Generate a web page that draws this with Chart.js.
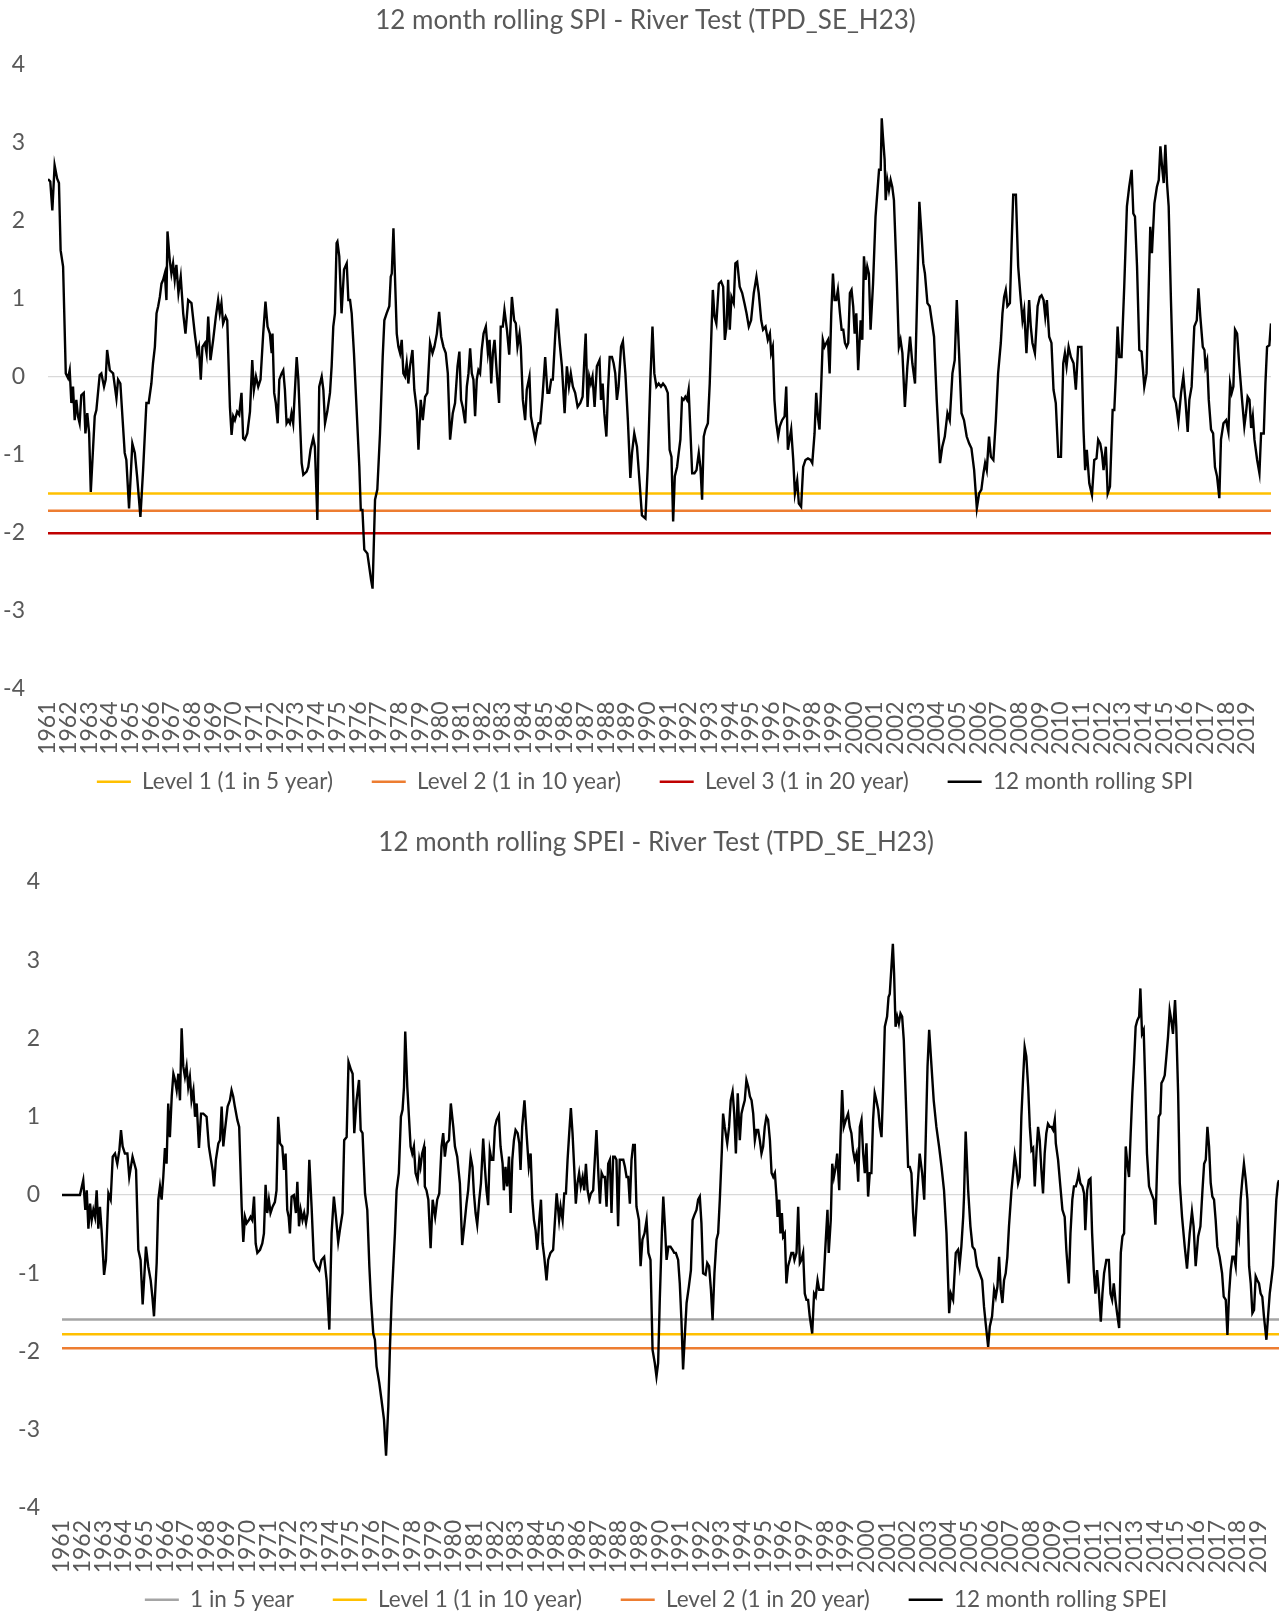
<!DOCTYPE html>
<html><head><meta charset="utf-8">
<script src="https://cdn.jsdelivr.net/npm/chart.js@4.4.1/dist/chart.umd.min.js"></script>
<style>
html,body{margin:0;padding:0;background:#fff;overflow:hidden;width:1279px;height:1613px}
canvas{display:block}
</style></head><body>
<canvas id="c1" width="1279" height="803"></canvas>
<canvas id="c2" width="1279" height="818"></canvas>
<script>
const FONT = 'Lato, "Open Sans", sans-serif';
const TEXT = '#595959';

const yearTicks = [];
for (let y = 1961; y <= 2019; y++) yearTicks.push(y);
const yTickValues = [-4,-3,-2,-1,0,1,2,3,4];

const spiTitle = '12 month rolling SPI - River Test (TPD_SE_H23)';
const spiName = '12 month rolling SPI';
const spiLevelNames = ['Level 1 (1 in 5 year)','Level 2 (1 in 10 year)','Level 3 (1 in 20 year)'];
const spiLevelValues = [-1.5,-1.72,-2.01];
const spiLevelColors = ['#FFC000','#ED7D31','#C00000'];

const speiTitle = '12 month rolling SPEI - River Test (TPD_SE_H23)';
const speiName = '12 month rolling SPEI';
const speiLevelNames = ['1 in 5 year','Level 1 (1 in 10 year)','Level 2 (1 in 20 year)'];
const speiLevelValues = [-1.59,-1.78,-1.96];
const speiLevelColors = ['#A5A5A5','#FFC000','#ED7D31'];

// [year, value]
const spiSeries = [[1961.00,2.53],[1961.11,2.50],[1961.21,2.13],[1961.32,2.71],[1961.44,2.54],[1961.53,2.48],[1961.61,1.62],[1961.73,1.41],[1961.86,0.04],[1961.97,-0.02],[1962.05,0.08],[1962.13,-0.34],[1962.21,-0.13],[1962.29,-0.56],[1962.37,-0.30],[1962.45,-0.51],[1962.53,-0.60],[1962.61,-0.24],[1962.73,-0.21],[1962.81,-0.73],[1962.90,-0.47],[1962.99,-0.73],[1963.07,-1.48],[1963.26,-0.51],[1963.34,-0.43],[1963.50,0.02],[1963.58,0.04],[1963.71,-0.13],[1963.79,-0.04],[1963.86,0.34],[1963.99,0.08],[1964.15,0.04],[1964.31,-0.28],[1964.39,-0.04],[1964.50,-0.09],[1964.71,-0.98],[1964.79,-1.07],[1964.92,-1.69],[1965.08,-0.86],[1965.20,-0.98],[1965.31,-1.28],[1965.47,-1.80],[1965.60,-1.20],[1965.76,-0.34],[1965.87,-0.34],[1966.00,-0.09],[1966.08,0.17],[1966.17,0.38],[1966.25,0.81],[1966.33,0.90],[1966.41,1.02],[1966.49,1.19],[1966.57,1.24],[1966.65,1.32],[1966.73,0.98],[1966.78,1.86],[1966.89,1.49],[1966.97,1.32],[1967.05,1.45],[1967.13,1.24],[1967.21,1.43],[1967.31,1.07],[1967.42,1.28],[1967.54,0.81],[1967.65,0.55],[1967.78,0.98],[1967.94,0.94],[1968.10,0.55],[1968.22,0.30],[1968.30,0.38],[1968.39,-0.04],[1968.47,0.38],[1968.59,0.43],[1968.67,0.30],[1968.75,0.77],[1968.86,0.21],[1968.99,0.47],[1969.12,0.77],[1969.23,0.98],[1969.31,0.81],[1969.39,0.94],[1969.47,0.68],[1969.59,0.77],[1969.67,0.72],[1969.80,-0.39],[1969.88,-0.75],[1969.96,-0.51],[1970.04,-0.56],[1970.15,-0.45],[1970.25,-0.49],[1970.36,-0.21],[1970.44,-0.79],[1970.52,-0.81],[1970.64,-0.73],[1970.77,-0.45],[1970.88,0.21],[1970.96,-0.17],[1971.06,0.00],[1971.17,-0.13],[1971.28,-0.04],[1971.41,0.55],[1971.52,0.96],[1971.62,0.64],[1971.73,0.55],[1971.82,0.30],[1971.86,0.55],[1971.94,-0.21],[1972.02,-0.34],[1972.11,-0.60],[1972.19,-0.04],[1972.30,0.04],[1972.38,0.08],[1972.46,-0.17],[1972.54,-0.60],[1972.62,-0.56],[1972.70,-0.60],[1972.78,-0.47],[1972.86,-0.60],[1973.03,0.25],[1973.11,-0.04],[1973.27,-1.11],[1973.35,-1.26],[1973.51,-1.22],[1973.59,-1.16],[1973.70,-0.94],[1973.83,-0.79],[1973.91,-0.90],[1974.03,-1.84],[1974.12,-0.13],[1974.24,0.00],[1974.32,-0.17],[1974.40,-0.60],[1974.51,-0.45],[1974.64,-0.21],[1974.72,0.13],[1974.80,0.64],[1974.88,0.81],[1974.96,1.71],[1975.00,1.73],[1975.09,1.54],[1975.20,0.81],[1975.32,1.37],[1975.45,1.45],[1975.53,0.98],[1975.61,0.98],[1975.69,0.81],[1975.80,0.30],[1975.93,-0.43],[1976.06,-1.16],[1976.13,-1.71],[1976.21,-1.71],[1976.30,-2.22],[1976.45,-2.27],[1976.54,-2.44],[1976.63,-2.61],[1976.70,-2.72],[1976.82,-1.58],[1976.93,-1.45],[1977.06,-0.73],[1977.19,0.25],[1977.27,0.72],[1977.38,0.81],[1977.51,0.90],[1977.58,1.28],[1977.63,1.32],[1977.71,1.90],[1977.82,0.98],[1977.87,0.55],[1977.95,0.38],[1978.03,0.30],[1978.11,0.47],[1978.19,0.04],[1978.27,0.00],[1978.35,0.17],[1978.43,-0.09],[1978.51,0.13],[1978.63,0.34],[1978.72,-0.17],[1978.84,-0.43],[1978.92,-0.94],[1979.03,-0.30],[1979.13,-0.56],[1979.24,-0.26],[1979.35,-0.21],[1979.48,0.43],[1979.60,0.30],[1979.69,0.38],[1979.81,0.55],[1979.92,0.83],[1980.02,0.51],[1980.13,0.38],[1980.24,0.30],[1980.34,0.04],[1980.45,-0.81],[1980.58,-0.47],[1980.69,-0.34],[1980.81,0.13],[1980.90,0.32],[1980.98,-0.30],[1981.06,-0.39],[1981.18,-0.60],[1981.26,-0.13],[1981.34,0.04],[1981.42,0.36],[1981.50,0.04],[1981.58,-0.04],[1981.66,-0.51],[1981.74,-0.04],[1981.82,0.08],[1981.90,0.04],[1981.98,0.34],[1982.07,0.55],[1982.18,0.64],[1982.28,0.30],[1982.36,0.47],[1982.44,-0.09],[1982.52,0.30],[1982.60,0.47],[1982.71,0.04],[1982.82,-0.34],[1982.90,0.64],[1983.00,0.64],[1983.08,0.85],[1983.20,0.60],[1983.31,0.28],[1983.44,1.02],[1983.55,0.72],[1983.63,0.68],[1983.71,0.38],[1983.81,0.55],[1983.87,0.38],[1983.97,-0.30],[1984.08,-0.56],[1984.16,-0.17],[1984.29,0.00],[1984.36,-0.51],[1984.45,-0.64],[1984.57,-0.81],[1984.65,-0.68],[1984.73,-0.60],[1984.81,-0.60],[1984.92,-0.26],[1985.05,0.25],[1985.16,-0.21],[1985.25,-0.21],[1985.34,-0.04],[1985.42,-0.04],[1985.54,0.55],[1985.62,0.87],[1985.75,0.43],[1985.86,0.13],[1985.99,-0.47],[1986.10,0.13],[1986.20,-0.13],[1986.29,0.04],[1986.39,-0.13],[1986.50,-0.21],[1986.62,-0.39],[1986.75,-0.34],[1986.86,-0.26],[1986.96,0.30],[1987.01,0.55],[1987.10,-0.39],[1987.18,0.00],[1987.26,-0.09],[1987.34,0.00],[1987.44,-0.39],[1987.55,0.13],[1987.68,0.21],[1987.75,-0.30],[1987.83,-0.09],[1987.91,-0.47],[1988.01,-0.77],[1988.09,-0.17],[1988.17,0.25],[1988.28,0.25],[1988.36,0.17],[1988.44,0.04],[1988.52,-0.30],[1988.60,-0.13],[1988.72,0.38],[1988.81,0.45],[1988.93,0.04],[1989.05,-0.56],[1989.17,-1.30],[1989.25,-0.98],[1989.36,-0.73],[1989.49,-0.90],[1989.62,-1.37],[1989.73,-1.78],[1989.90,-1.82],[1990.01,-1.16],[1990.14,-0.04],[1990.24,0.64],[1990.33,0.04],[1990.43,-0.13],[1990.54,-0.09],[1990.65,-0.13],[1990.75,-0.09],[1990.86,-0.13],[1990.98,-0.21],[1991.07,-0.94],[1991.16,-1.03],[1991.24,-1.86],[1991.32,-1.28],[1991.43,-1.16],[1991.51,-0.98],[1991.59,-0.81],[1991.67,-0.28],[1991.75,-0.30],[1991.83,-0.26],[1991.91,-0.30],[1991.99,-0.17],[1992.08,-0.73],[1992.16,-1.24],[1992.27,-1.24],[1992.37,-1.20],[1992.48,-0.98],[1992.56,-1.16],[1992.64,-1.58],[1992.72,-0.77],[1992.80,-0.68],[1992.92,-0.60],[1993.01,-0.09],[1993.08,0.47],[1993.16,1.11],[1993.24,0.77],[1993.33,0.68],[1993.45,1.19],[1993.56,1.22],[1993.66,1.15],[1993.74,0.47],[1993.82,0.64],[1993.90,1.24],[1993.98,0.60],[1994.06,1.02],[1994.17,0.94],[1994.25,1.45],[1994.34,1.47],[1994.46,1.15],[1994.58,1.07],[1994.69,0.94],[1994.79,0.81],[1994.90,0.64],[1995.01,0.72],[1995.14,1.07],[1995.27,1.28],[1995.38,1.07],[1995.50,0.72],[1995.59,0.60],[1995.71,0.64],[1995.82,0.47],[1995.92,0.55],[1995.98,0.30],[1996.06,0.38],[1996.14,-0.30],[1996.22,-0.58],[1996.32,-0.77],[1996.40,-0.64],[1996.51,-0.56],[1996.63,-0.51],[1996.71,-0.13],[1996.79,-0.94],[1996.87,-0.81],[1996.95,-0.68],[1997.05,-1.07],[1997.13,-1.50],[1997.24,-1.33],[1997.32,-1.63],[1997.43,-1.67],[1997.53,-1.16],[1997.64,-1.07],[1997.76,-1.05],[1997.89,-1.07],[1997.97,-1.11],[1998.08,-0.73],[1998.16,-0.21],[1998.24,-0.51],[1998.32,-0.68],[1998.40,-0.13],[1998.48,0.47],[1998.56,0.38],[1998.65,0.43],[1998.73,0.47],[1998.81,0.04],[1998.89,0.81],[1998.97,1.32],[1999.05,0.98],[1999.13,0.98],[1999.21,1.11],[1999.31,0.81],[1999.39,0.60],[1999.47,0.60],[1999.55,0.43],[1999.63,0.38],[1999.71,0.43],[1999.79,1.07],[1999.87,1.11],[1999.95,0.90],[2000.02,0.55],[2000.10,0.81],[2000.19,0.08],[2000.31,0.72],[2000.39,0.47],[2000.47,1.54],[2000.55,1.24],[2000.63,1.41],[2000.71,1.32],[2000.79,0.60],[2000.91,1.19],[2001.03,2.05],[2001.20,2.65],[2001.28,2.65],[2001.33,3.31],[2001.39,3.07],[2001.47,2.78],[2001.52,2.26],[2001.60,2.52],[2001.68,2.39],[2001.76,2.52],[2001.84,2.43],[2001.92,2.26],[2002.05,1.32],[2002.16,0.38],[2002.24,0.47],[2002.33,0.30],[2002.45,-0.39],[2002.57,0.13],[2002.70,0.51],[2002.81,0.17],[2002.94,-0.09],[2003.05,1.11],[2003.15,2.24],[2003.25,1.84],[2003.34,1.45],[2003.42,1.32],[2003.54,0.94],[2003.65,0.90],[2003.86,0.51],[2003.99,-0.30],[2004.15,-1.11],[2004.26,-0.90],[2004.38,-0.77],[2004.51,-0.47],[2004.62,-0.56],[2004.75,0.04],[2004.86,0.21],[2004.96,0.98],[2005.07,0.30],[2005.19,-0.47],[2005.31,-0.56],[2005.44,-0.77],[2005.56,-0.86],[2005.67,-0.92],[2005.80,-1.20],[2005.93,-1.69],[2006.04,-1.50],[2006.15,-1.45],[2006.25,-1.24],[2006.33,-1.11],[2006.41,-1.20],[2006.52,-0.77],[2006.61,-1.03],[2006.73,-1.07],[2006.85,-0.56],[2006.96,0.04],[2007.09,0.43],[2007.17,0.81],[2007.25,1.02],[2007.33,1.11],[2007.41,0.90],[2007.53,0.94],[2007.61,1.67],[2007.69,2.33],[2007.82,2.33],[2007.93,1.41],[2008.03,1.07],[2008.14,0.72],[2008.22,0.85],[2008.33,0.30],[2008.46,0.98],[2008.54,0.64],[2008.62,0.43],[2008.74,0.30],[2008.87,0.90],[2008.98,1.02],[2009.06,1.04],[2009.16,0.98],[2009.24,0.77],[2009.32,0.98],[2009.43,0.51],[2009.54,0.43],[2009.64,-0.17],[2009.75,-0.34],[2009.87,-1.03],[2010.00,-1.03],[2010.11,0.17],[2010.19,0.30],[2010.27,0.13],[2010.37,0.38],[2010.48,0.25],[2010.61,0.17],[2010.72,-0.17],[2010.83,0.38],[2010.99,0.38],[2011.09,-0.68],[2011.17,-1.20],[2011.25,-0.94],[2011.37,-1.37],[2011.50,-1.52],[2011.61,-1.07],[2011.72,-1.05],[2011.80,-0.81],[2011.90,-0.86],[2011.98,-0.98],[2012.06,-1.20],[2012.17,-0.90],[2012.26,-1.50],[2012.37,-1.41],[2012.50,-0.43],[2012.58,-0.43],[2012.66,0.04],[2012.74,0.64],[2012.82,0.25],[2012.93,0.25],[2013.06,1.15],[2013.19,2.18],[2013.30,2.43],[2013.42,2.65],[2013.50,2.09],[2013.58,2.05],[2013.68,1.41],[2013.79,0.34],[2013.90,0.32],[2014.03,-0.13],[2014.14,0.04],[2014.27,1.41],[2014.32,1.92],[2014.40,1.58],[2014.52,2.22],[2014.64,2.43],[2014.73,2.52],[2014.81,2.95],[2014.89,2.69],[2014.97,2.48],[2015.05,2.97],[2015.13,2.48],[2015.21,2.18],[2015.32,0.98],[2015.45,-0.26],[2015.56,-0.34],[2015.68,-0.58],[2015.81,-0.21],[2015.92,0.00],[2016.02,-0.30],[2016.13,-0.71],[2016.21,-0.30],[2016.32,-0.13],[2016.45,0.64],[2016.57,0.72],[2016.65,1.13],[2016.74,0.77],[2016.86,0.38],[2016.94,0.34],[2016.99,0.13],[2017.07,0.21],[2017.15,-0.30],[2017.26,-0.68],[2017.36,-0.73],[2017.45,-1.16],[2017.55,-1.28],[2017.66,-1.56],[2017.74,-0.81],[2017.86,-0.60],[2017.99,-0.56],[2018.10,-0.71],[2018.18,-0.09],[2018.26,-0.21],[2018.34,-0.13],[2018.42,0.60],[2018.52,0.55],[2018.63,0.13],[2018.76,-0.30],[2018.87,-0.64],[2018.95,-0.47],[2019.03,-0.26],[2019.12,-0.30],[2019.20,-0.66],[2019.28,-0.51],[2019.36,-0.81],[2019.49,-1.07],[2019.60,-1.24],[2019.68,-0.73],[2019.81,-0.73],[2019.89,-0.09],[2019.97,0.38],[2020.08,0.40],[2020.16,0.68]];

const speiSeries = [[1961.00,0.00],[1961.87,0.00],[1962.03,0.19],[1962.13,-0.19],[1962.20,0.06],[1962.28,-0.43],[1962.36,-0.11],[1962.44,-0.32],[1962.52,-0.19],[1962.60,-0.28],[1962.68,0.06],[1962.76,-0.43],[1962.84,-0.15],[1962.92,-0.45],[1963.04,-1.02],[1963.13,-0.83],[1963.25,0.02],[1963.36,-0.06],[1963.46,0.49],[1963.57,0.53],[1963.68,0.40],[1963.78,0.57],[1963.86,0.83],[1963.94,0.62],[1964.05,0.53],[1964.17,0.53],[1964.26,0.23],[1964.34,0.36],[1964.42,0.49],[1964.51,0.40],[1964.59,0.32],[1964.70,-0.70],[1964.81,-0.83],[1964.91,-1.40],[1964.99,-1.04],[1965.07,-0.66],[1965.18,-0.91],[1965.30,-1.09],[1965.38,-1.30],[1965.46,-1.55],[1965.59,-0.87],[1965.67,-0.06],[1965.75,0.11],[1965.83,-0.06],[1965.91,0.23],[1965.99,0.60],[1966.07,0.40],[1966.15,1.17],[1966.23,0.74],[1966.32,1.26],[1966.40,1.55],[1966.48,1.47],[1966.56,1.34],[1966.64,1.55],[1966.72,1.21],[1966.80,2.13],[1966.88,1.64],[1966.96,1.51],[1967.04,1.64],[1967.12,1.38],[1967.20,1.51],[1967.28,1.21],[1967.37,1.34],[1967.45,1.00],[1967.53,1.17],[1967.64,0.60],[1967.74,1.04],[1967.85,1.04],[1968.01,1.00],[1968.12,0.62],[1968.22,0.45],[1968.30,0.32],[1968.37,0.11],[1968.46,0.45],[1968.58,0.66],[1968.66,0.70],[1968.74,1.13],[1968.82,0.62],[1968.90,0.83],[1969.03,1.13],[1969.14,1.21],[1969.22,1.34],[1969.30,1.26],[1969.38,1.13],[1969.50,0.96],[1969.59,0.87],[1969.71,-0.15],[1969.79,-0.60],[1969.87,-0.28],[1969.95,-0.36],[1970.06,-0.32],[1970.14,-0.28],[1970.22,-0.32],[1970.31,-0.02],[1970.39,-0.62],[1970.47,-0.74],[1970.60,-0.70],[1970.71,-0.62],[1970.79,-0.49],[1970.87,0.13],[1970.95,-0.23],[1971.03,-0.06],[1971.11,-0.23],[1971.21,-0.15],[1971.32,-0.09],[1971.40,0.06],[1971.48,1.00],[1971.57,0.66],[1971.68,0.62],[1971.76,0.32],[1971.84,0.53],[1971.92,-0.19],[1971.99,-0.28],[1972.05,-0.49],[1972.13,-0.02],[1972.24,0.00],[1972.34,-0.23],[1972.41,0.17],[1972.49,-0.40],[1972.57,-0.19],[1972.66,-0.32],[1972.74,-0.23],[1972.83,-0.36],[1972.91,-0.23],[1972.99,0.45],[1973.10,-0.15],[1973.21,-0.83],[1973.34,-0.91],[1973.47,-0.96],[1973.58,-0.83],[1973.71,-0.79],[1973.83,-1.09],[1973.96,-1.72],[1974.07,-0.49],[1974.18,-0.02],[1974.28,-0.28],[1974.39,-0.60],[1974.47,-0.45],[1974.60,-0.23],[1974.68,0.70],[1974.80,0.74],[1974.89,1.70],[1975.01,1.60],[1975.09,1.55],[1975.17,0.79],[1975.28,1.21],[1975.40,1.47],[1975.48,0.83],[1975.57,0.79],[1975.69,0.02],[1975.80,-0.19],[1975.90,-0.91],[1975.98,-1.34],[1976.09,-1.77],[1976.17,-1.85],[1976.25,-2.19],[1976.38,-2.40],[1976.49,-2.62],[1976.61,-2.87],[1976.71,-3.33],[1976.82,-2.70],[1976.90,-1.94],[1976.98,-1.34],[1977.14,-0.49],[1977.22,0.06],[1977.33,0.28],[1977.43,1.00],[1977.51,1.09],[1977.58,1.38],[1977.64,2.09],[1977.74,1.38],[1977.82,1.00],[1977.90,0.62],[1977.98,0.53],[1978.06,0.62],[1978.14,0.28],[1978.24,0.19],[1978.32,0.45],[1978.38,0.36],[1978.46,0.53],[1978.55,0.62],[1978.59,0.11],[1978.67,0.06],[1978.76,-0.06],[1978.87,-0.68],[1978.97,-0.06],[1979.09,-0.28],[1979.19,-0.06],[1979.29,0.02],[1979.40,0.62],[1979.48,0.79],[1979.56,0.49],[1979.64,0.66],[1979.76,0.70],[1979.85,1.17],[1979.97,0.87],[1980.05,0.62],[1980.16,0.49],[1980.29,0.15],[1980.40,-0.64],[1980.50,-0.40],[1980.61,-0.11],[1980.69,0.06],[1980.81,0.49],[1980.90,0.36],[1980.97,0.02],[1981.05,-0.23],[1981.13,-0.38],[1981.23,-0.06],[1981.31,0.15],[1981.42,0.72],[1981.50,0.36],[1981.58,0.06],[1981.66,-0.13],[1981.74,0.57],[1981.82,0.45],[1981.91,0.45],[1981.99,0.87],[1982.07,0.96],[1982.18,1.02],[1982.26,0.62],[1982.36,0.40],[1982.42,0.06],[1982.50,0.36],[1982.58,0.11],[1982.67,0.49],[1982.75,-0.23],[1982.83,0.45],[1982.91,0.70],[1982.99,0.83],[1983.09,0.79],[1983.17,0.66],[1983.23,0.32],[1983.31,0.87],[1983.42,1.21],[1983.52,0.79],[1983.63,0.36],[1983.72,0.53],[1983.80,-0.06],[1983.88,-0.32],[1983.96,-0.45],[1984.04,-0.70],[1984.14,-0.32],[1984.22,-0.06],[1984.30,-0.62],[1984.38,-0.79],[1984.49,-1.09],[1984.57,-0.83],[1984.68,-0.74],[1984.81,-0.70],[1984.89,-0.36],[1984.98,0.02],[1985.10,-0.32],[1985.17,-0.15],[1985.27,-0.32],[1985.35,0.02],[1985.43,0.02],[1985.51,0.45],[1985.59,0.79],[1985.67,1.11],[1985.75,0.79],[1985.83,0.36],[1985.91,-0.11],[1985.99,0.15],[1986.07,0.28],[1986.15,0.11],[1986.24,0.23],[1986.32,0.06],[1986.40,0.40],[1986.48,0.06],[1986.56,-0.06],[1986.64,0.02],[1986.75,0.06],[1986.83,0.45],[1986.91,0.83],[1987.01,0.23],[1987.08,-0.11],[1987.16,0.28],[1987.24,0.23],[1987.32,0.23],[1987.40,-0.15],[1987.48,0.40],[1987.56,0.45],[1987.64,-0.23],[1987.72,0.49],[1987.80,0.49],[1987.88,0.45],[1987.96,-0.40],[1988.04,0.45],[1988.13,0.45],[1988.21,0.45],[1988.29,0.36],[1988.37,0.23],[1988.45,0.23],[1988.53,-0.11],[1988.61,0.45],[1988.69,0.64],[1988.77,0.64],[1988.85,-0.15],[1988.97,-0.32],[1989.05,-0.91],[1989.14,-0.57],[1989.24,-0.49],[1989.34,-0.32],[1989.43,-0.74],[1989.53,-0.83],[1989.63,-1.98],[1989.74,-2.15],[1989.82,-2.32],[1989.90,-2.15],[1989.98,-1.34],[1990.08,-0.49],[1990.15,-0.02],[1990.23,-0.40],[1990.31,-0.83],[1990.40,-0.66],[1990.50,-0.66],[1990.60,-0.70],[1990.68,-0.74],[1990.76,-0.74],[1990.87,-0.83],[1990.95,-1.13],[1991.03,-1.60],[1991.11,-2.23],[1991.20,-1.77],[1991.28,-1.38],[1991.39,-1.17],[1991.49,-0.96],[1991.57,-0.32],[1991.65,-0.26],[1991.76,-0.19],[1991.84,-0.06],[1991.92,-0.02],[1992.00,-0.36],[1992.08,-1.00],[1992.20,-1.02],[1992.28,-0.87],[1992.37,-0.91],[1992.46,-1.21],[1992.54,-1.60],[1992.63,-1.00],[1992.73,-0.57],[1992.81,-0.49],[1992.89,-0.06],[1992.99,0.57],[1993.05,1.04],[1993.13,0.87],[1993.25,0.66],[1993.34,0.87],[1993.42,1.21],[1993.51,1.32],[1993.59,1.04],[1993.67,0.53],[1993.76,1.30],[1993.86,0.70],[1993.94,1.04],[1994.02,1.13],[1994.10,1.21],[1994.18,1.47],[1994.27,1.38],[1994.35,1.26],[1994.43,1.21],[1994.51,1.04],[1994.59,0.70],[1994.67,0.83],[1994.75,0.83],[1994.83,0.70],[1994.91,0.53],[1994.99,0.62],[1995.07,0.87],[1995.15,1.00],[1995.23,0.96],[1995.32,0.70],[1995.40,0.28],[1995.48,0.23],[1995.56,0.28],[1995.64,-0.02],[1995.69,-0.28],[1995.77,-0.06],[1995.83,-0.49],[1995.90,-0.23],[1995.96,-0.53],[1996.04,-0.49],[1996.12,-1.13],[1996.20,-0.91],[1996.28,-0.83],[1996.36,-0.74],[1996.45,-0.74],[1996.51,-0.83],[1996.61,-0.74],[1996.69,-0.15],[1996.77,-0.87],[1996.85,-0.83],[1996.93,-0.74],[1997.01,-1.26],[1997.09,-1.34],[1997.17,-1.34],[1997.25,-1.55],[1997.37,-1.77],[1997.46,-1.26],[1997.54,-1.30],[1997.63,-1.09],[1997.71,-1.21],[1997.82,-1.21],[1997.90,-1.21],[1998.01,-0.66],[1998.11,-0.19],[1998.17,-0.74],[1998.27,-0.32],[1998.34,0.40],[1998.42,0.23],[1998.51,0.36],[1998.58,0.53],[1998.68,0.06],[1998.74,0.70],[1998.82,1.34],[1998.90,0.87],[1999.00,0.96],[1999.11,1.04],[1999.19,0.87],[1999.27,0.79],[1999.35,0.57],[1999.43,0.45],[1999.52,0.53],[1999.60,0.17],[1999.68,0.87],[1999.76,0.96],[1999.84,0.53],[1999.92,0.28],[2000.00,0.66],[2000.08,-0.02],[2000.16,0.28],[2000.24,0.28],[2000.32,0.96],[2000.40,1.30],[2000.48,1.21],[2000.57,1.09],[2000.65,0.87],[2000.73,0.74],[2000.81,1.38],[2000.89,2.15],[2001.00,2.28],[2001.07,2.53],[2001.13,2.57],[2001.21,2.91],[2001.28,3.21],[2001.34,2.83],[2001.41,2.15],[2001.49,2.28],[2001.57,2.19],[2001.65,2.32],[2001.73,2.28],[2001.81,1.98],[2001.91,1.21],[2002.02,0.36],[2002.10,0.36],[2002.18,0.28],[2002.26,-0.23],[2002.34,-0.53],[2002.46,0.02],[2002.58,0.53],[2002.70,0.28],[2002.80,-0.06],[2002.88,0.79],[2002.96,1.64],[2003.04,2.11],[2003.26,1.21],[2003.39,0.87],[2003.52,0.62],[2003.64,0.36],[2003.76,0.06],[2003.88,-0.49],[2004.01,-1.51],[2004.09,-1.26],[2004.20,-1.34],[2004.33,-0.74],[2004.44,-0.70],[2004.52,-0.89],[2004.60,-0.66],[2004.69,-0.28],[2004.73,-0.02],[2004.81,0.81],[2004.93,0.06],[2005.04,-0.40],[2005.14,-0.66],[2005.25,-0.70],[2005.36,-0.91],[2005.49,-1.00],[2005.61,-1.09],[2005.70,-1.43],[2005.78,-1.64],[2005.90,-1.94],[2005.98,-1.68],[2006.09,-1.55],[2006.19,-1.21],[2006.27,-1.30],[2006.35,-1.17],[2006.43,-0.79],[2006.51,-1.21],[2006.59,-1.38],[2006.67,-1.09],[2006.75,-1.00],[2006.83,-0.79],[2006.91,-0.40],[2007.03,0.06],[2007.11,0.28],[2007.19,0.51],[2007.27,0.36],[2007.35,0.15],[2007.43,0.23],[2007.51,1.00],[2007.59,1.47],[2007.67,1.89],[2007.75,1.77],[2007.84,1.38],[2007.92,0.87],[2008.00,0.57],[2008.08,0.60],[2008.16,0.11],[2008.24,0.53],[2008.32,0.87],[2008.40,0.70],[2008.48,0.32],[2008.56,0.02],[2008.64,0.53],[2008.72,0.79],[2008.80,0.91],[2008.89,0.87],[2008.97,0.87],[2009.05,0.83],[2009.13,0.96],[2009.18,0.66],[2009.29,0.45],[2009.40,0.11],[2009.50,-0.19],[2009.61,-0.28],[2009.69,-0.70],[2009.81,-1.13],[2009.89,-0.49],[2009.98,-0.06],[2010.06,0.11],[2010.15,0.11],[2010.23,0.19],[2010.29,0.28],[2010.37,0.15],[2010.47,0.11],[2010.55,0.02],[2010.61,-0.45],[2010.70,0.06],[2010.78,0.19],[2010.86,0.21],[2010.94,-0.49],[2011.02,-0.96],[2011.10,-1.26],[2011.18,-0.96],[2011.26,-1.21],[2011.36,-1.62],[2011.44,-1.26],[2011.52,-1.00],[2011.63,-0.83],[2011.75,-0.83],[2011.83,-1.26],[2011.91,-1.34],[2011.99,-1.13],[2012.07,-1.34],[2012.15,-1.51],[2012.25,-1.70],[2012.33,-0.74],[2012.41,-0.53],[2012.49,-0.49],[2012.57,0.62],[2012.65,0.40],[2012.73,0.23],[2012.81,0.79],[2012.89,1.30],[2012.97,1.68],[2013.05,2.15],[2013.13,2.23],[2013.22,2.28],[2013.28,2.64],[2013.36,2.06],[2013.44,2.11],[2013.52,1.38],[2013.60,0.53],[2013.70,0.11],[2013.81,0.02],[2013.93,-0.06],[2014.01,-0.38],[2014.09,0.36],[2014.17,1.00],[2014.25,1.04],[2014.30,1.43],[2014.38,1.47],[2014.46,1.53],[2014.54,1.77],[2014.62,2.02],[2014.70,2.36],[2014.78,2.23],[2014.86,2.06],[2014.96,2.49],[2015.02,2.15],[2015.11,1.30],[2015.19,0.15],[2015.30,-0.28],[2015.43,-0.66],[2015.54,-0.94],[2015.67,-0.49],[2015.78,-0.21],[2015.86,-0.40],[2015.96,-0.91],[2016.08,-0.53],[2016.19,-0.40],[2016.29,0.06],[2016.37,0.40],[2016.45,0.45],[2016.53,0.87],[2016.61,0.62],[2016.69,0.15],[2016.77,-0.02],[2016.85,-0.06],[2016.93,-0.32],[2017.01,-0.66],[2017.12,-0.79],[2017.24,-1.00],[2017.32,-1.30],[2017.42,-1.34],[2017.50,-1.79],[2017.58,-1.26],[2017.66,-0.96],[2017.74,-0.79],[2017.82,-0.79],[2017.90,-0.91],[2017.98,-0.40],[2018.06,-0.53],[2018.14,-0.06],[2018.22,0.19],[2018.30,0.40],[2018.39,0.19],[2018.47,-0.06],[2018.55,-0.91],[2018.63,-1.13],[2018.71,-1.51],[2018.79,-1.47],[2018.87,-1.04],[2018.95,-1.09],[2019.03,-1.13],[2019.11,-1.26],[2019.19,-1.30],[2019.27,-1.55],[2019.39,-1.85],[2019.47,-1.55],[2019.55,-1.26],[2019.63,-1.09],[2019.71,-0.91],[2019.79,-0.49],[2019.87,-0.06],[2019.95,0.15],[2020.00,0.19]];

const LEGEND_GAP = '     ';

function makeChart(id, o) {
  const datasets = o.levelNames.map((n, i) => ({
    label: n,
    data: [{x: o.xMin, y: o.levelValues[i]}, {x: o.xMax, y: o.levelValues[i]}],
    borderColor: o.levelColors[i], backgroundColor: o.levelColors[i],
    borderWidth: 2.5, pointRadius: 0, order: 1
  }));
  datasets.push({
    label: o.seriesName,
    data: o.series.map(p => ({x: p[0], y: p[1]})),
    borderColor: '#000000', backgroundColor: '#000000',
    borderWidth: 2.4, pointRadius: 0, tension: 0, order: 0
  });
  return new Chart(document.getElementById(id), {
    type: 'line',
    data: {datasets},
    options: {
      responsive: false, animation: false, devicePixelRatio: 1,
      layout: {padding: {left: 0, right: o.padRight, top: 0, bottom: 0}},
      plugins: {
        title: {display: true, text: o.titleLead + o.title, color: TEXT,
          font: {family: FONT, size: 26, weight: 'normal'},
          padding: {top: o.titleTop, bottom: o.titleBottom}},
        legend: {position: 'bottom', fullSize: false, labels: {
          usePointStyle: true, pointStyle: 'line', pointStyleWidth: 34,
          color: TEXT, font: {family: FONT, size: 22.5}, padding: 10,
          generateLabels: chart => {
            const items = Chart.defaults.plugins.legend.labels.generateLabels(chart);
            items.sort((a, b) => a.datasetIndex - b.datasetIndex);
            items.forEach(it => { it.text += LEGEND_GAP; });
            return items;
          },
          sort: (a, b) => a.datasetIndex - b.datasetIndex}},
        tooltip: {enabled: false}
      },
      scales: {
        x: {type: 'linear', min: o.xMin, max: o.xMax,
          grid: {display: false}, border: {display: false},
          afterBuildTicks: s => { s.ticks = yearTicks.map(v => ({value: v})); },
          afterFit: s => { s.height = o.xAxisHeight; s.paddingLeft = 0; s.paddingRight = 0; },
          ticks: {autoSkip: false, minRotation: 90, maxRotation: 90, padding: o.xPad,
            color: TEXT, font: {family: FONT, size: 23}, callback: v => String(v)}},
        y: {min: -4, max: 4,
          afterBuildTicks: s => { s.ticks = yTickValues.map(v => ({value: v})); },
          afterFit: s => { s.width = o.yAxisWidth; s.paddingTop = 0; s.paddingBottom = 0; },
          border: {display: false},
          grid: {drawTicks: false, lineWidth: 1.3,
            color: c => (c.tick && c.tick.value === 0) ? '#D9D9D9' : 'rgba(0,0,0,0)'},
          ticks: {padding: o.yPad, color: TEXT, font: {family: FONT, size: 23},
            callback: v => String(v)}}
      }
    }
  });
}

makeChart('c1', {
  title: spiTitle, titleLead: '   ', seriesName: spiName, series: spiSeries,
  levelNames: spiLevelNames, levelValues: spiLevelValues, levelColors: spiLevelColors,
  xMin: 1961, xMax: 2020.16, padRight: 8,
  titleTop: 5.4, titleBottom: 27.9, xAxisHeight: 72, xPad: 5, yAxisWidth: 48, yPad: 23
});
makeChart('c2', {
  title: speiTitle, titleLead: '     ', seriesName: speiName, series: speiSeries,
  levelNames: speiLevelNames, levelValues: speiLevelValues, levelColors: speiLevelColors,
  xMin: 1961, xMax: 2020.0, padRight: 0,
  titleTop: 24.4, titleBottom: 23.4, xAxisHeight: 70.5, xPad: 4, yAxisWidth: 62, yPad: 22
});
</script>
</body></html>
